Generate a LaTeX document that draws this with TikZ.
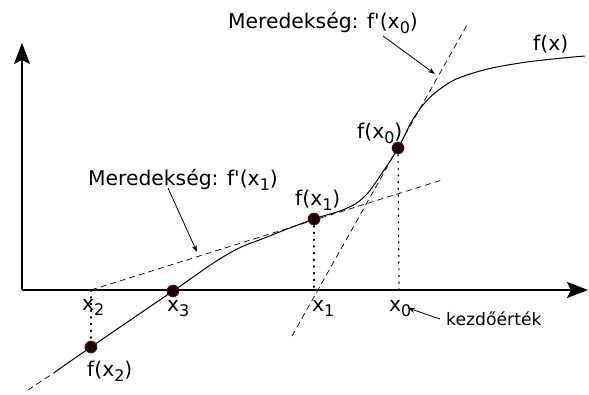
\documentclass[tikz,border=0pt]{standalone}
\usepackage{fontspec}
\setmainfont{DejaVu Sans}
\usetikzlibrary{arrows.meta}
\newcommand\sbs[1]{\raisebox{-0.5ex}{\fontsize{16}{16}\selectfont#1}}
\newcommand\pr{\textquotesingle}
\begin{document}
\begin{tikzpicture}[x=1pt,y=-1pt,
  lbl/.style={inner sep=0pt,font=\fontsize{20.3}{20.3}\selectfont},
  small/.style={inner sep=0pt,font=\fontsize{17.2}{17.2}\selectfont},
  axis/.style={line width=1.8pt,-{Stealth[length=21pt,width=16pt,inset=4pt]}},
  tang/.style={line width=0.7pt,dash pattern=on 6pt off 4pt},
  drop/.style={line width=1.2pt,dash pattern=on 1.2pt off 5.5pt,line cap=round},
  pt/.style={circle,fill=black!90!red,draw=red!50!black,line width=0.6pt,minimum size=12pt,inner sep=0pt},
  note/.style={line width=0.8pt,-{Stealth[length=7pt,width=5pt]}}]
\useasboundingbox (0,0) rectangle (589,394);
% axes
\coordinate (O) at (22,290);
\coordinate (xend) at (588,290);
\coordinate (yend) at (22,43);
\draw[axis] (O) -- (xend);
\draw[axis] (O) -- (yend);
% base points
\coordinate (X0) at (399,290);
\coordinate (X1) at (314,290);
\coordinate (X2) at (91,290);
\coordinate (F0) at (398,148);
\coordinate (F1) at (314,219);
\coordinate (F2) at (91,347);
\coordinate (F3) at (173,291);
% tangents
\coordinate (t0a) at (292,336);
\coordinate (t0b) at (467,25);
\coordinate (t1b) at (442,180);
\coordinate (c0) at (28,390);
\coordinate (c1) at (55,372);
\draw[tang] (t0a) -- (t0b);
\draw[tang] (X2) -- (t1b);
\draw[tang] (c0) -- (c1);
% dotted drops
\draw[drop] (F0) -- (X0);
\draw[drop] (F1) -- (X1);
\draw[drop] (X2) -- (F2);
% curve
\draw[line width=1pt] plot[smooth,tension=0.7] coordinates {(55,372) (91,347) (173,291) (228,254) (267,237) (314,219) (345,209) (364,197) (380,176) (398,148) (417,113) (440,89) (470,74) (520,63) (585,56)};
% points
\node[pt] (p0) at (F0) {};
\node[pt] (p1) at (F1) {};
\node[pt] (p2) at (F2) {};
\node[pt] (p3) at (F3) {};
% labels
\node[lbl,anchor=base west] (m0) at (228,28) {Meredekség: f\pr(x\sbs{0})};
\node[lbl,anchor=base west] (fx) at (533,50) {f(x)};
\node[lbl,anchor=base west] (fx0) at (357,138) {f(x\sbs{0})};
\node[lbl,anchor=base west] (m1) at (88,185) {Meredekség: f\pr(x\sbs{1})};
\node[lbl,anchor=base west] (fx1) at (295,205) {f(x\sbs{1})};
\node[lbl,anchor=base west] (lx2) at (82,310) {x\sbs{2}};
\node[lbl,anchor=base west] (lx3) at (167,311) {x\sbs{3}};
\node[lbl,anchor=base west] (lx1) at (312,311) {x\sbs{1}};
\node[lbl,anchor=base west] (lx0) at (389,311) {x\sbs{0}};
\node[lbl,anchor=base west] (fx2) at (87,376) {f(x\sbs{2})};
\node[small,anchor=base west] (kz) at (446,325) {kezdőérték};
% notes
\coordinate (a0s) at (383,36);
\coordinate (a0e) at (435,74);
\coordinate (a1s) at (168,188);
\coordinate (a1e) at (197,252);
\coordinate (aks) at (440,319);
\coordinate (ake) at (408,308);
\draw[note] (a0s) -- (a0e);
\draw[note] (a1s) -- (a1e);
\draw[note] (aks) -- (ake);
\end{tikzpicture}
\end{document}
